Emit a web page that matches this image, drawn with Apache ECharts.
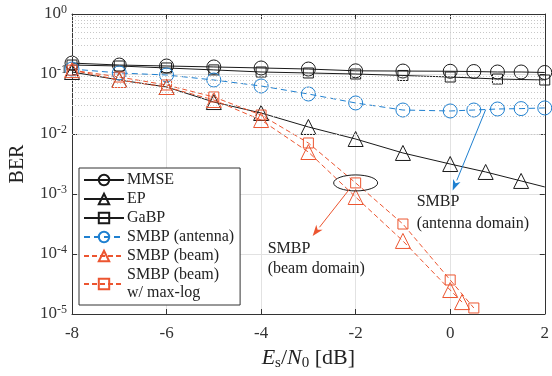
<!DOCTYPE html>
<html>
<head>
<meta charset="utf-8">
<script src="https://cdn.jsdelivr.net/npm/echarts@6/dist/echarts.min.js"></script>
<style>
  html, body { margin: 0; padding: 0; background: #fff; }
  #chart { width: 552px; height: 376px; }
</style>
</head>
<body>
<div id="chart"></div>
<script>
// Es/N0 [dB] and BER
var mmseSnr = [-8, -7, -6, -5, -4, -3, -2, -1, 0, 0.5, 1, 1.5, 2];
var mmseBer = [0.152, 0.141, 0.136, 0.131, 0.126, 0.121, 0.113, 0.112, 0.111, 0.110, 0.108, 0.108, 0.106];

var epSnr = [-8, -7, -6, -5, -4, -3, -2, -1, 0, 0.75, 1.5, 2];
var epBer = [0.108, 0.0794, 0.0607, 0.0341, 0.0224, 0.0131, 0.00825, 0.00483, 0.00316, 0.00233, 0.00165, 0.00131];

var gabpSnr = [-8, -7, -6, -5, -4, -3, -2, -1, 0, 1, 2];
var gabpBer = [0.141, 0.136, 0.126, 0.117, 0.108, 0.104, 0.100, 0.0945, 0.0891, 0.0825, 0.0794];

var antSnr = [-8, -7, -6, -5, -4, -3, -2, -1, 0, 0.5, 1, 1.5, 2];
var antBer = [0.121, 0.104, 0.0962, 0.0794, 0.0631, 0.0464, 0.0329, 0.0251, 0.0242, 0.0251, 0.0261, 0.0265, 0.0272];

var beamSnr = [-8, -7, -6, -5, -4, -3, -2, -1, 0, 0.25];
var beamBer = [0.116, 0.0794, 0.0607, 0.0369, 0.0171, 0.00501, 0.000891, 0.000165, 0.0000251, 0.0000158];

var maxlogSnr = [-8, -7, -6, -5, -4, -3, -2, -1, 0, 0.5];
var maxlogBer = [0.116, 0.089, 0.0656, 0.0414, 0.0207, 0.00708, 0.00153, 0.000316, 0.0000369, 0.0000126];

var xTicks = [-8, -6, -4, -2, 0, 2];

var FONT = 'Liberation Serif';
var BLACK = '#1a1a1a';
var BLUE = '#1f80d0';
var RED = '#ec5530';

function pairs(xs, ys) {
    return xs.map(function(x, i) { return [x, ys[i]]; });
}

// log-scale minor grid values (2..9 x 10^k)
var minorVals = [];
for (var e = -5; e < 0; e++) {
    for (var m = 2; m <= 9; m++) {
        minorVals.push(m * Math.pow(10, e));
    }
}

function lineSeries(name, data, color, symbol, size, dash) {
    return {
        name: name,
        type: 'line',
        data: data,
        symbol: symbol,
        symbolSize: size,
        clip: false,
        z: 3,
        lineStyle: { color: color, width: 1, type: dash || 'solid' },
        itemStyle: { color: 'rgba(255,255,255,0)', borderColor: color, borderWidth: 1 }
    };
}

var epData = pairs(epSnr, epBer);
// the last EP point is the curve end, drawn without a marker
epData[epData.length - 1] = { value: epData[epData.length - 1], symbol: 'none' };

var series = [
    lineSeries('MMSE', pairs(mmseSnr, mmseBer), BLACK, 'circle', 14, null),
    lineSeries('EP', epData, BLACK, 'triangle', 15, null),
    lineSeries('GaBP', pairs(gabpSnr, gabpBer), BLACK, 'rect', 10, null),
    lineSeries('SMBP (antenna)', pairs(antSnr, antBer), BLUE, 'circle', 14, [6, 4]),
    lineSeries('SMBP (beam)', pairs(beamSnr, beamBer), RED, 'triangle', 15, [5, 3]),
    lineSeries('SMBP (beam)\nw/ max-log', pairs(maxlogSnr, maxlogBer), RED, 'rect', 10, [5, 3])
];

series[0].markLine = {
    silent: true,
    symbol: 'none',
    label: { show: false },
    animation: false,
    lineStyle: { color: '#c8c8c8', width: 1, type: [1, 2] },
    data: minorVals.map(function(v) { return { yAxis: v }; })
};

function axisCommon() {
    return {
        axisLine: { show: true, onZero: false, lineStyle: { color: '#333', width: 1 } },
        axisTick: { show: true, inside: true, length: 5, lineStyle: { color: '#333' } }
    };
}

var option = {
    animation: false,
    backgroundColor: '#fff',
    textStyle: { fontFamily: FONT },
    grid: { left: 69, right: 5, top: 14, bottom: 62 },
    legend: {
        orient: 'vertical',
        left: 79,
        top: 168,
        padding: [3, 6, 3, 4],
        itemGap: 1,
        itemWidth: 40,
        itemHeight: 13,
        backgroundColor: '#fff',
        borderColor: '#333',
        borderWidth: 1,
        textStyle: { fontFamily: FONT, fontSize: 16, color: '#222', lineHeight: 18, padding: [0, 0, 0, -2] },
        data: series.map(function(s) { return s.name; })
    },
    xAxis: [
        Object.assign({
            type: 'value',
            min: -8,
            max: 2,
            interval: 2,
            name: '{i|E}{sub|s}{n|/}{i|N}{sub|0}{n| [dB]}',
            nameLocation: 'middle',
            nameGap: 31,
            nameTextStyle: {
                rich: {
                    i: { fontFamily: FONT, fontSize: 22, fontStyle: 'italic', color: '#222' },
                    n: { fontFamily: FONT, fontSize: 22, color: '#222' },
                    sub: { fontFamily: FONT, fontSize: 15, color: '#222', padding: [10, 0, 0, 0] }
                }
            },
            axisLabel: {
                fontFamily: FONT, fontSize: 17, color: '#333', margin: 11,
                formatter: function(v) { return xTicks.indexOf(v) >= 0 ? String(v) : ''; }
            },
            splitLine: { show: true, lineStyle: { color: '#e2e2e2', width: 1 } }
        }, axisCommon()),
        Object.assign({
            type: 'value', min: -8, max: 2, interval: 2, position: 'top',
            axisLabel: { show: false }, splitLine: { show: false }
        }, axisCommon())
    ],
    yAxis: [
        Object.assign({
            type: 'log',
            logBase: 10,
            min: 0.00001,
            max: 1,
            name: 'BER',
            nameLocation: 'middle',
            nameGap: 44,
            nameTextStyle: { fontFamily: FONT, fontSize: 20, color: '#222' },
            axisLabel: {
                color: '#333', margin: 5,
                formatter: function(v) {
                    var k = Math.round(Math.log(v) / Math.LN10);
                    return '{b|10}{s|' + k + '}';
                },
                rich: {
                    b: { fontFamily: FONT, fontSize: 17, color: '#333' },
                    s: { fontFamily: FONT, fontSize: 12, color: '#333', padding: [0, 0, 9, 0] }
                }
            },
            splitLine: { show: true, lineStyle: { color: '#e2e2e2', width: 1 } }
        }, axisCommon()),
        Object.assign({
            type: 'log', logBase: 10, min: 0.00001, max: 1, position: 'right',
            axisLabel: { show: false }, splitLine: { show: false }
        }, axisCommon())
    ],
    series: series
};

var chart = echarts.init(document.getElementById('chart'), null, { renderer: 'canvas' });
chart.setOption(option);

// annotations, anchored to data coordinates
function arrow(x1, y1, x2, y2, color) {
    var dx = x2 - x1, dy = y2 - y1;
    var len = Math.sqrt(dx * dx + dy * dy);
    var ux = dx / len, uy = dy / len;
    var hl = 11, hw = 4;
    var bx = x2 - ux * hl, by = y2 - uy * hl;
    return [
        { type: 'line', shape: { x1: x1, y1: y1, x2: bx, y2: by }, style: { stroke: color, lineWidth: 1 }, z: 10 },
        { type: 'polygon', shape: { points: [[x2, y2], [bx - uy * hw, by + ux * hw], [bx + ux * 3, by + uy * 3], [bx + uy * hw, by - ux * hw]] },
          style: { fill: color }, z: 10 }
    ];
}

var c = chart.convertToPixel({ gridIndex: 0 }, [-2, 0.00153]);
var a = chart.convertToPixel({ gridIndex: 0 }, [0.75, 0.0255]);
var txt = { fontFamily: FONT, fontSize: 16, fill: '#222' };

var graphics = [
    { type: 'ellipse', shape: { cx: c[0], cy: c[1], rx: 22, ry: 8 }, style: { fill: 'none', stroke: BLACK, lineWidth: 1 }, z: 10 }
];
graphics = graphics.concat(arrow(c[0] - 6, c[1] + 6, c[0] - 43, c[1] + 53, RED));
graphics = graphics.concat(arrow(a[0], a[1], a[0] - 33, a[1] + 81, BLUE));
graphics.push(
    { type: 'text', left: c[0] - 88, top: c[1] + 58, style: Object.assign({ text: 'SMBP' }, txt), z: 10 },
    { type: 'text', left: c[0] - 88, top: c[1] + 78, style: Object.assign({ text: '(beam domain)' }, txt), z: 10 },
    { type: 'text', left: a[0] - 69, top: a[1] + 84, style: Object.assign({ text: 'SMBP' }, txt), z: 10 },
    { type: 'text', left: a[0] - 69, top: a[1] + 106, style: Object.assign({ text: '(antenna domain)' }, txt), z: 10 }
);
chart.setOption({ graphic: graphics });
</script>
</body>
</html>
